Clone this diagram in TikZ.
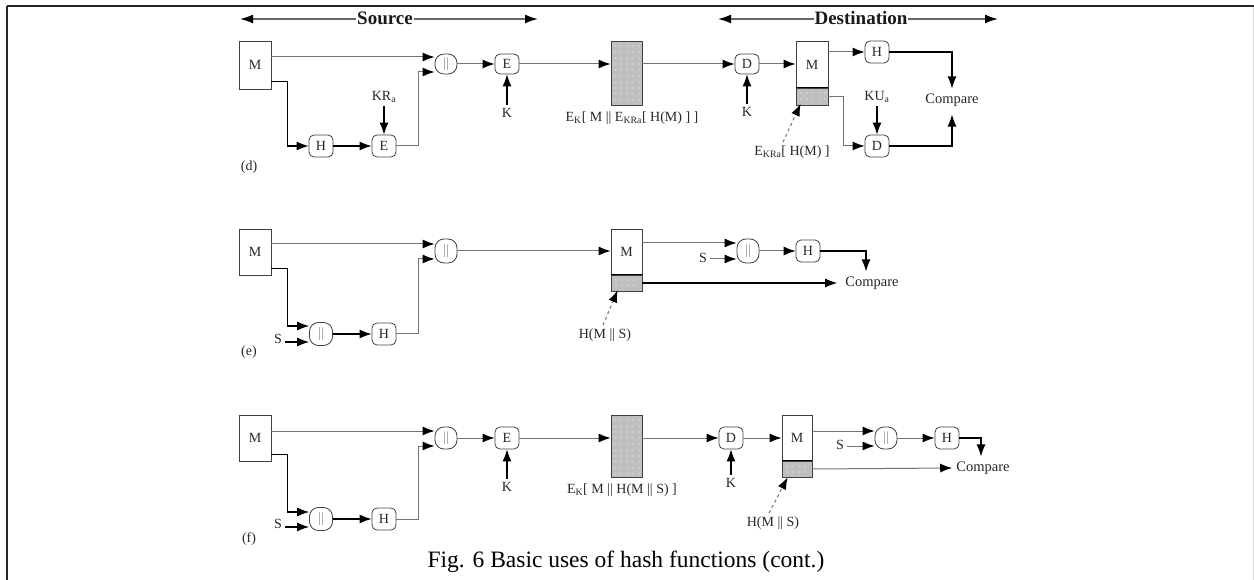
\documentclass[tikz,border=0pt]{standalone}
\usepackage{fontspec}
\setmainfont{Liberation Serif}
\usetikzlibrary{arrows.meta}
\begin{document}
\begin{tikzpicture}[x=1pt,y=-1pt,
  every node/.style={font=\fontsize{14}{16}\selectfont, text=black!85},
  mbox/.style={draw=black!75, line width=0.8pt, minimum width=32pt, minimum height=48pt, inner sep=0pt},
  op/.style={draw=black!75, line width=0.8pt, rounded corners=5pt, minimum width=24pt, minimum height=22pt, inner sep=0pt},
  cat/.style={op, rounded corners=9pt, minimum width=22pt},
  gbox/.style={draw=black!75, line width=0.8pt, fill=black!25, inner sep=0pt},
  ln/.style={draw=black, line width=1.1pt},
  lg/.style={draw=black!55, line width=1pt},
  arr/.style={-{Latex[length=12pt,width=9pt,color=black]}},
  hdr/.style={font=\bfseries\fontsize{19}{21}\selectfont, fill=white, inner sep=1pt, text=black!90},
  cmp/.style={inner sep=0pt, font=\fontsize{14.5}{16}\selectfont},
]
\useasboundingbox (0,0) rectangle (1254,580);
% frame
\draw[black!85, line width=2pt] (7,6) -- (1254,6);
\draw[black!85, line width=1.5pt] (7,6) -- (7,580);
\draw[black!15, line width=0.8pt] (1253,7) -- (1253,580);

% headers
\coordinate (sL) at (240,19);
\coordinate (sR) at (538,19);
\draw[black!60, line width=1.6pt, {Latex[length=13pt,width=9pt,color=black]}-{Latex[length=13pt,width=9pt,color=black]}] (sL) -- (sR);
\node[hdr] (src) at (385,18) {Source};
\coordinate (tL) at (718,19);
\coordinate (tR) at (998,19);
\draw[black!60, line width=1.6pt, {Latex[length=13pt,width=9pt,color=black]}-{Latex[length=13pt,width=9pt,color=black]}] (tL) -- (tR);
\node[hdr] (dst) at (861,18) {Destination};

% ================= (d) =================
\node[mbox] (dM) at (255,65) {M};
\node[cat, minimum height=20pt] (dC) at (446,64) {\textcolor{black!45}{||}};
\coordinate (dCa) at ([yshift=7pt]dC.west);
\coordinate (dCb) at ([yshift=-8pt]dC.west);
\node[op] (dH) at (321,146) {H};
\node[op] (dE1) at (384,146) {E};
\node (dKR) at (384,97) {KR\textsubscript{a}};
\node[op, minimum height=20pt] (dE2) at (507,64) {E};
\node (dK) at (507,113) {K};
\node[gbox, minimum width=31pt, minimum height=64pt] (dG) at (626.5,73) {};
\foreach \px in {615,621,...,639} \foreach \py in {46,52,...,100} \fill[white] (\px,\py) circle (0.7pt);
\node (dL) at (632,118) {E\textsubscript{K}[ M || E\textsubscript{KRa}[ H(M) ] ]};
\node[op, minimum height=20pt] (dD) at (747,64) {D};
\node (dK2) at (747,112) {K};
\node[mbox, minimum height=47pt] (dMM) at (812,64.5) {M};
\node[gbox, minimum width=32pt, minimum height=17pt] (dMG) at (812,96.5) {};
\foreach \px in {801,807,...,825} \foreach \py in {93,99} \fill[white] (\px,\py) circle (0.7pt);
\draw[black, line width=1.4pt] (dMG.north west) -- (dMG.north east);
\node[op] (dH2) at (877,52) {H};
\node[cmp] (dCmp) at (952,100) {Compare};
\node[op] (dD2) at (877,146) {D};
\node (dKU) at (877,97) {KU\textsubscript{a}};
\node (dP) at (792,152) {E\textsubscript{KRa}[ H(M) ]};
\node (dlab) at (249,167) {(d)};

\draw[lg,arr] (dM.east |- dCa) -- (dCa);
\draw[ln,arr] ([yshift=8pt]dM.south east) -- ++(16,0) |- (dH.west);
\draw[ln,arr] (dH) -- (dE1);
\draw[ln,arr] (dKR) -- (dE1);
\draw[lg,arr] (dE1.east) -- ++(22,0) |- (dCb);
\draw[lg,arr] (dC) -- (dE2);
\draw[ln,arr] (dK) -- (dE2);
\draw[lg,arr] (dE2.east) -- (dE2.east -| dG.west);
\draw[lg,arr] (dG.east |- dD) -- (dD.west);
\draw[ln,arr] (dK2) -- (dD);
\draw[lg,arr] (dD.east) -- (dD.east -| dMM.west);
\draw[lg,arr] (dMM.east |- dH2) -- (dH2.west);
\draw[ln,arr] (dH2.east) -| ([yshift=5pt]dCmp.north);
\draw[lg,arr] (dMG.east) -- ++(15,0) |- (dD2.west);
\draw[ln,arr] (dKU) -- (dD2);
\draw[ln,arr] (dD2.east) -| ([yshift=-8pt]dCmp.south);
\draw[lg,dashed,arr] ([xshift=-9pt]dP.north) -- ([shift={(5pt,1.5pt)}]dMG.south west);

% ================= (e) =================
\node[mbox, minimum height=46pt] (eM) at (255,252) {M};
\node[cat, minimum height=24pt] (eC) at (446,251) {\textcolor{black!45}{||}};
\coordinate (eCa) at ([yshift=7pt]eC.west);
\coordinate (eCb) at ([yshift=-8pt]eC.west);
\node[cat, minimum height=23pt, minimum width=23pt] (eC2) at (321,334) {\textcolor{black!45}{||}};
\coordinate (eC2a) at ([yshift=8pt]eC2.west);
\coordinate (eC2b) at ([yshift=-8pt]eC2.west);
\node (eS) at (278,339) {S};
\node[op] (eH) at (384,334) {H};
\node[mbox, minimum width=31pt, minimum height=46pt] (eMM) at (626.5,252) {M};
\node[gbox, minimum width=31pt, minimum height=16pt] (eMG) at (626.5,283) {};
\foreach \px in {616,622,...,638} \foreach \py in {280,286} \fill[white] (\px,\py) circle (0.7pt);
\draw[black, line width=1.4pt] (eMG.north west) -- (eMG.north east);
\node[cat, minimum height=24pt] (eC3) at (748,251) {\textcolor{black!45}{||}};
\coordinate (eC3a) at ([yshift=8pt]eC3.west);
\coordinate (eC3b) at ([yshift=-8pt]eC3.west);
\node (eS2) at (703,258) {S};
\node[op] (eH2) at (808,251) {H};
\node[cmp] (eCmp) at (872,283) {Compare};
\node (eP) at (605,335) {H(M || S)};
\node (elab) at (249,352) {(e)};

\draw[lg,arr] (eM.east |- eCa) -- (eCa);
\draw[ln,arr] ([yshift=7pt]eM.south east) -- ++(16,0) |- (eC2a);
\draw[ln,arr] (eS.east |- eC2b) -- (eC2b);
\draw[ln,arr] (eC2) -- (eH);
\draw[lg,arr] (eH.east) -- ++(22,0) |- (eCb);
\draw[lg,arr] (eC.east) -- (eC.east -| eMM.west);
\draw[lg,arr] (eMM.east |- eC3a) -- (eC3a);
\draw[lg,arr] (eS2.east |- eC3b) -- (eC3b);
\draw[lg,arr] (eC3) -- (eH2);
\draw[ln,arr] (eH2.east) -| ([xshift=-6pt,yshift=5pt]eCmp.north);
\draw[ln,arr] (eMG.east) -- ([xshift=-8pt]eCmp.west);
\draw[lg,dashed,arr] ([xshift=-2pt]eP.north) -- ([shift={(7pt,1pt)}]eMG.south west);

% ================= (f) =================
\node[mbox, minimum height=46pt] (fM) at (255,438) {M};
\node[cat, minimum height=22pt] (fC) at (446,438) {\textcolor{black!45}{||}};
\coordinate (fCa) at ([yshift=7pt]fC.west);
\coordinate (fCb) at ([yshift=-8pt]fC.west);
\node[cat, minimum height=23pt, minimum width=23pt] (fC2) at (321,519) {\textcolor{black!45}{||}};
\coordinate (fC2a) at ([yshift=7pt]fC2.west);
\coordinate (fC2b) at ([yshift=-8pt]fC2.west);
\node (fS) at (278,524) {S};
\node[op] (fH) at (384,519) {H};
\node[op] (fE) at (507,438) {E};
\node (fK) at (507,487) {K};
\node[gbox, minimum width=31pt, minimum height=62pt] (fG) at (626.5,446) {};
\foreach \px in {615,621,...,639} \foreach \py in {420,426,...,474} \fill[white] (\px,\py) circle (0.7pt);
\node (fL) at (622,490) {E\textsubscript{K}[ M || H(M || S) ]};
\node[op] (fD) at (731,438) {D};
\node (fK2) at (731,483) {K};
\node[mbox, minimum width=30pt, minimum height=46pt] (fMM) at (797,438) {M};
\node[gbox, minimum width=30pt, minimum height=16pt] (fMG) at (797,469) {};
\foreach \px in {787,793,...,807} \foreach \py in {466,472} \fill[white] (\px,\py) circle (0.7pt);
\draw[black, line width=1.4pt] (fMG.north west) -- (fMG.north east);
\node[cat, minimum height=22pt] (fC3) at (886,438) {\textcolor{black!45}{||}};
\coordinate (fC3a) at ([yshift=7pt]fC3.west);
\coordinate (fC3b) at ([yshift=-8pt]fC3.west);
\node (fS2) at (840,445) {S};
\node[op] (fH2) at (947,438) {H};
\node[cmp] (fCmp) at (983,468) {Compare};
\node (fP) at (773,523) {H(M || S)};
\node (flab) at (249,539) {(f)};

\draw[lg,arr] (fM.east |- fCa) -- (fCa);
\draw[ln,arr] ([yshift=7pt]fM.south east) -- ++(16,0) |- (fC2a);
\draw[ln,arr] (fS.east |- fC2b) -- (fC2b);
\draw[ln,arr] (fC2) -- (fH);
\draw[lg,arr] (fH.east) -- ++(22,0) |- (fCb);
\draw[lg,arr] (fC) -- (fE);
\draw[ln,arr] (fK) -- (fE);
\draw[lg,arr] (fE.east) -- (fE.east -| fG.west);
\draw[lg,arr] (fG.east |- fD) -- (fD.west);
\draw[ln,arr] (fK2) -- (fD);
\draw[lg,arr] (fD.east) -- (fD.east -| fMM.west);
\draw[lg,arr] (fMM.east |- fC3a) -- (fC3a);
\draw[lg,arr] (fS2.east |- fC3b) -- (fC3b);
\draw[lg,arr] (fC3) -- (fH2);
\draw[ln,arr] (fH2.east) -| ([xshift=-2pt,yshift=5pt]fCmp.north);
\draw[lg,arr] (fMG.east) -- ([xshift=-4pt]fCmp.west);
\draw[lg,dashed,arr] ([xshift=-4pt]fP.north) -- ([shift={(6pt,0pt)}]fMG.south west);

% caption
\node[font=\fontsize{23.5}{26}\selectfont, text=black] (cap) at (626,562) {Fig. 6 Basic uses of hash functions (cont.)};
\end{tikzpicture}
\end{document}
